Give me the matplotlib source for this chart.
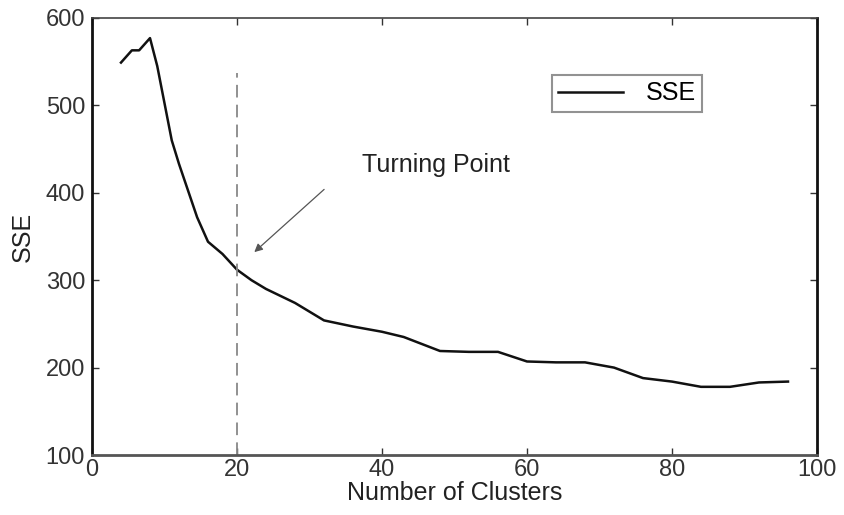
import matplotlib
matplotlib.use("Agg")
import matplotlib.pyplot as plt

clusters = [4, 5.5, 6.5, 8, 9, 11, 12, 14.5, 16, 18, 20, 22, 24, 28, 32, 36, 40, 43, 48, 52, 56, 60, 64, 68, 72, 76, 80, 84, 88, 92, 96]
sse = [549, 563, 563, 577, 545, 460, 433, 372, 344, 330, 312, 300, 290, 274, 254, 247, 241, 235, 219, 218, 218, 207, 206, 206, 200, 188, 184, 178, 178, 183, 184]

turning_x = 20
xticks = [0, 20, 40, 60, 80, 100]
yticks = [100, 200, 300, 400, 500, 600]

plt.rcParams['font.family'] = ['Liberation Sans', 'DejaVu Sans']

fig = plt.figure(figsize=(8.45, 5.15), dpi=100)
ax = fig.add_axes([92/845, (515-455)/515, (817-92)/845, (455-18)/515])

ax.plot(clusters, sse, color='#111111', lw=1.8, label='SSE')
ax.plot([turning_x, turning_x], [100, 537], color='#888888', lw=1.3, dashes=(7, 4))

ax.annotate('', xy=(22.1, 330), xytext=(32.3, 406),
            arrowprops=dict(arrowstyle='-|>', color='#555555', lw=0.9, mutation_scale=12))
ax.text(37.2, 432, 'Turning Point', fontsize=18, color='#222222', va='center', ha='left')

ax.set_xlim(0, 100)
ax.set_ylim(100, 600)
ax.set_xticks(xticks)
ax.set_yticks(yticks)
ax.tick_params(direction='in', top=True, right=True, labelsize=17, length=5, width=1, colors='#333333')
ax.tick_params(axis='y', pad=5)
ax.tick_params(axis='x', pad=3)
for s in ax.spines.values():
    s.set_linewidth(2)
    s.set_color('#111111')
ax.spines['top'].set_linewidth(1.2)
ax.spines['top'].set_color('#444444')
ax.spines['bottom'].set_color('#555555')

ax.set_xlabel('Number of Clusters', fontsize=18, color='#222222', labelpad=0)
ax.set_ylabel('SSE', fontsize=18, color='#222222', labelpad=8)

leg = ax.legend(loc='upper left', bbox_to_anchor=((552-92)/725, (455-75)/437), fontsize=18,
                frameon=True, fancybox=False, handlelength=2.6, handletextpad=0.9,
                borderpad=0.25, borderaxespad=0)
leg.get_frame().set_edgecolor('#777777')
leg.get_frame().set_linewidth(1.5)

fig.savefig('out.png', dpi=100)
